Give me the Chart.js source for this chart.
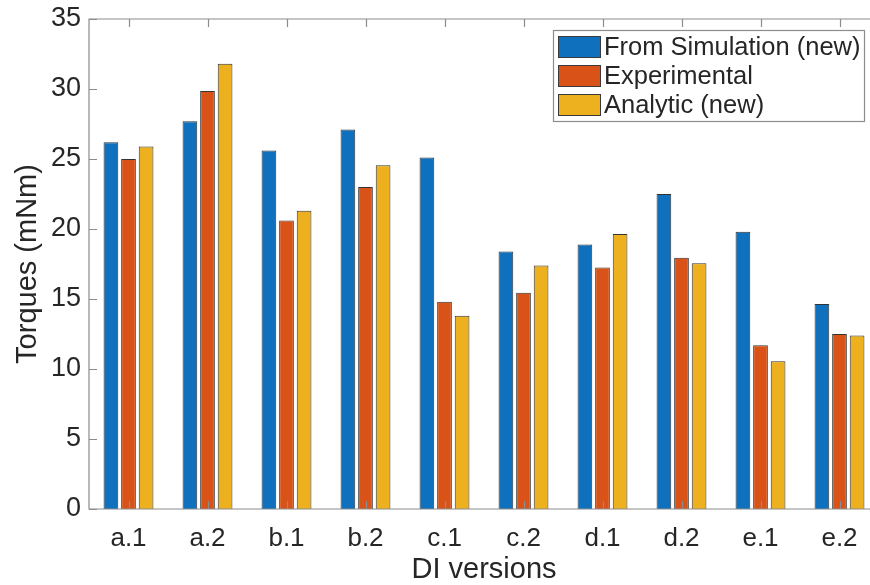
<!DOCTYPE html>
<html>
<head>
<meta charset="utf-8">
<script src="https://cdn.jsdelivr.net/npm/chart.js@4/dist/chart.umd.min.js"></script>
<style>
  html, body { margin: 0; padding: 0; background: #fff; overflow: hidden; }
  #wrap { width: 870px; height: 585px; overflow: hidden; }
</style>
</head>
<body>
<div id="wrap"><canvas id="c" width="882" height="585"></canvas></div>
<script>
const categories = ['a.1', 'a.2', 'b.1', 'b.2', 'c.1', 'c.2', 'd.1', 'd.2', 'e.1', 'e.2'];
const seriesNames = ['From Simulation (new)', 'Experimental', 'Analytic (new)'];
const simulation = [26.2, 27.7, 25.6, 27.1, 25.1, 18.4, 18.9, 22.5, 19.8, 14.65];
const experimental = [25.0, 29.85, 20.6, 23.0, 14.8, 15.45, 17.25, 17.95, 11.7, 12.5];
const analytic = [25.9, 31.8, 21.3, 24.55, 13.8, 17.4, 19.65, 17.55, 10.55, 12.4];
const yTickValues = [0, 5, 10, 15, 20, 25, 30, 35];

const colors = ['#0F71BD', '#D95319', '#EDB120'];
const textColor = '#262626';
const axisColor = '#8c8c8c';
const FONT = '"Liberation Sans", Arial, Helvetica, sans-serif';

const boxPlugin = {
  id: 'matlabBox',
  afterDraw(chart) {
    const {ctx, chartArea: a, scales} = chart;
    const xs = scales.x, ys = scales.y;
    ctx.save();
    ctx.strokeStyle = axisColor;
    ctx.lineWidth = 1.2;
    ctx.beginPath();
    ctx.rect(a.left, a.top, a.right - a.left, a.bottom - a.top);
    ctx.stroke();
    const tl = 8;
    ctx.beginPath();
    yTickValues.forEach(v => {
      const y = Math.round(ys.getPixelForValue(v)) + 0.5;
      ctx.moveTo(a.left, y); ctx.lineTo(a.left + tl, y);
      ctx.moveTo(a.right, y); ctx.lineTo(a.right - tl, y);
    });
    categories.forEach((c, i) => {
      const x = Math.round(xs.getPixelForValue(i)) + 0.5;
      ctx.moveTo(x, a.bottom); ctx.lineTo(x, a.bottom - tl);
      ctx.moveTo(x, a.top); ctx.lineTo(x, a.top + tl);
    });
    ctx.stroke();

    // legend
    const lx = 553, ly = 30, lw = 311, lh = 91;
    ctx.fillStyle = '#ffffff';
    ctx.fillRect(lx, ly, lw, lh);
    ctx.strokeStyle = axisColor;
    ctx.lineWidth = 1.2;
    ctx.strokeRect(lx + 0.5, ly + 0.5, lw, lh);
    ctx.font = '25.5px ' + FONT;
    ctx.textBaseline = 'middle';
    ctx.textAlign = 'left';
    chart.data.datasets.forEach((ds, i) => {
      const sy = 36 + i * 29;
      ctx.fillStyle = ds.backgroundColor;
      ctx.fillRect(558, sy, 42, 21);
      ctx.strokeStyle = '#3a3a3a';
      ctx.lineWidth = 1;
      ctx.strokeRect(558.5, sy + 0.5, 42, 21);
      ctx.fillStyle = textColor;
      ctx.fillText(ds.label, 604, sy + 11.5);
    });
    ctx.restore();
  }
};

new Chart(document.getElementById('c'), {
  type: 'bar',
  data: {
    labels: categories,
    datasets: [
      { label: seriesNames[0], data: simulation, backgroundColor: colors[0] },
      { label: seriesNames[1], data: experimental, backgroundColor: colors[1] },
      { label: seriesNames[2], data: analytic, backgroundColor: colors[2] }
    ]
  },
  options: {
    responsive: false,
    animation: false,
    devicePixelRatio: 1,
    layout: { padding: { top: 19, right: 3, left: 0, bottom: 0 } },
    datasets: {
      bar: {
        categoryPercentage: 0.668,
        barPercentage: 0.835,
        borderColor: '#333333',
        borderWidth: 1
      }
    },
    plugins: {
      legend: { display: false },
      tooltip: { enabled: false }
    },
    scales: {
      x: {
        grid: { display: false, drawTicks: false },
        border: { display: false },
        ticks: { color: textColor, font: { family: FONT, size: 26 }, padding: 14, maxRotation: 0 },
        title: { display: true, text: 'DI versions', color: textColor, font: { family: FONT, size: 29, lineHeight: 1.05 }, padding: { top: 0, bottom: 0 } },
        afterFit(s) { s.height = 76; s.paddingLeft = 0; s.paddingRight = 0; }
      },
      y: {
        min: 0, max: 35,
        grid: { display: false, drawTicks: false },
        border: { display: false },
        ticks: { stepSize: 5, color: textColor, font: { family: FONT, size: 27 }, padding: 8 },
        title: { display: true, text: 'Torques (mNm)', color: textColor, font: { family: FONT, size: 29 }, padding: { top: 11, bottom: 0 } },
        afterFit(s) { s.width = 89; s.paddingTop = 0; s.paddingBottom = 0; }
      }
    }
  },
  plugins: [boxPlugin]
});
</script>
</body>
</html>
